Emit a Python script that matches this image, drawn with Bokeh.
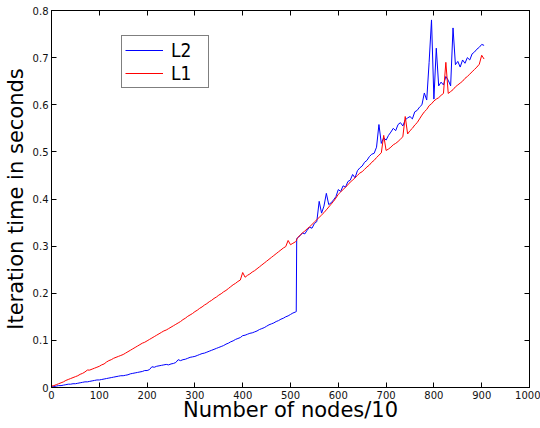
from bokeh.plotting import figure
from bokeh.models import Range1d, FixedTicker, LinearAxis, Legend, LegendItem
from bokeh.embed import file_html
from bokeh.resources import INLINE

# ---------------- data ----------------
nodes = list(range(0, 511, 5)) + [512, 513] + list(range(515, 906, 5))

l2_times = [
    0.001, 0.002, 0.003, 0.004, 0.004, 0.005, 0.006, 0.007, 0.007, 0.008,
    0.008, 0.009, 0.010, 0.011, 0.012, 0.012, 0.013, 0.014, 0.015, 0.016,
    0.016, 0.017, 0.018, 0.019, 0.020, 0.021, 0.022, 0.023, 0.024, 0.025,
    0.025, 0.026, 0.027, 0.029, 0.030, 0.031, 0.032, 0.033, 0.034, 0.036,
    0.036, 0.038, 0.044, 0.043, 0.045, 0.046, 0.047, 0.048, 0.049, 0.048,
    0.050, 0.051, 0.053, 0.059, 0.057, 0.059, 0.060, 0.062, 0.064, 0.065,
    0.066, 0.068, 0.070, 0.072, 0.073, 0.075, 0.077, 0.079, 0.081, 0.083,
    0.085, 0.087, 0.089, 0.092, 0.094, 0.097, 0.099, 0.102, 0.104, 0.106,
    0.110, 0.111, 0.113, 0.115, 0.116, 0.118, 0.120, 0.123, 0.125, 0.127,
    0.130, 0.133, 0.135, 0.137, 0.140, 0.142, 0.145, 0.147, 0.150, 0.152,
    0.155, 0.158, 0.160,
    0.161, 0.316,
    0.318, 0.322, 0.328, 0.326, 0.334, 0.340, 0.338, 0.348, 0.352,
    0.395, 0.370, 0.385, 0.412, 0.388, 0.392, 0.398, 0.405, 0.420, 0.416,
    0.428, 0.425, 0.437, 0.440, 0.452, 0.445, 0.460, 0.466, 0.470, 0.478,
    0.482, 0.490, 0.495, 0.497, 0.510, 0.558, 0.518, 0.530, 0.525, 0.535,
    0.542, 0.550, 0.545, 0.558, 0.562, 0.555, 0.568, 0.572, 0.575, 0.570,
    0.585, 0.588, 0.595, 0.600, 0.625, 0.610, 0.690, 0.780, 0.612, 0.720,
    0.640, 0.648, 0.642, 0.660, 0.652, 0.640, 0.763, 0.685, 0.692, 0.680,
    0.695, 0.688, 0.700, 0.695, 0.708, 0.712, 0.718, 0.722, 0.728, 0.726,
]

l1_times = [
    0.003, 0.004, 0.006, 0.008, 0.010, 0.012, 0.015, 0.017, 0.019, 0.021,
    0.023, 0.025, 0.028, 0.030, 0.033, 0.037, 0.037, 0.039, 0.041, 0.043,
    0.045, 0.048, 0.050, 0.054, 0.057, 0.059, 0.062, 0.064, 0.066, 0.068,
    0.070, 0.073, 0.076, 0.079, 0.082, 0.085, 0.088, 0.091, 0.094, 0.096,
    0.099, 0.102, 0.105, 0.108, 0.111, 0.114, 0.117, 0.120, 0.122, 0.125,
    0.128, 0.131, 0.134, 0.137, 0.140, 0.144, 0.147, 0.151, 0.154, 0.157,
    0.161, 0.164, 0.168, 0.171, 0.175, 0.178, 0.182, 0.185, 0.189, 0.192,
    0.196, 0.199, 0.203, 0.206, 0.210, 0.214, 0.218, 0.221, 0.225, 0.228,
    0.244, 0.234, 0.238, 0.241, 0.245, 0.248, 0.252, 0.256, 0.260, 0.264,
    0.268, 0.272, 0.276, 0.280, 0.284, 0.288, 0.292, 0.296, 0.299, 0.312,
    0.303, 0.306, 0.309,
    0.311, 0.314,
    0.318, 0.323, 0.328, 0.332, 0.337, 0.341, 0.346, 0.351, 0.356,
    0.361, 0.366, 0.371, 0.377, 0.383, 0.389, 0.395, 0.402, 0.410, 0.415,
    0.420, 0.425, 0.430, 0.436, 0.440, 0.445, 0.450, 0.455, 0.458, 0.463,
    0.468, 0.472, 0.478, 0.482, 0.488, 0.493, 0.498, 0.535, 0.503, 0.506,
    0.510, 0.515, 0.518, 0.522, 0.527, 0.532, 0.575, 0.538, 0.545, 0.550,
    0.557, 0.562, 0.570, 0.578, 0.585, 0.590, 0.598, 0.602, 0.608, 0.612,
    0.615, 0.620, 0.624, 0.690, 0.624, 0.628, 0.632, 0.638, 0.642, 0.646,
    0.650, 0.656, 0.660, 0.665, 0.670, 0.675, 0.680, 0.686, 0.705, 0.697,
]

x_ticks = [0, 100, 200, 300, 400, 500, 600, 700, 800, 900, 1000]
y_ticks = [0, 0.1, 0.2, 0.3, 0.4, 0.5, 0.6, 0.7, 0.8]
y_tick_labels = ["0", "0.1", "0.2", "0.3", "0.4", "0.5", "0.6", "0.7", "0.8"]
series_names = ["L2", "L1"]

# ---------------- figure ----------------
p = figure(frame_width=478, frame_height=377, output_backend="svg",
           toolbar_location=None,
           x_range=Range1d(0, 1000), y_range=Range1d(0, 0.8),
           min_border_left=51, min_border_top=10, min_border_right=11,
           min_border_bottom=41)

p.grid.visible = False
p.outline_line_color = "black"
p.outline_line_width = 1
p.background_fill_color = "white"
p.border_fill_color = "white"

TICK_FONT = "DejaVu Sans"

def style_axis(ax, show_labels=True):
    ax.axis_line_color = "black"
    ax.axis_line_width = 1
    ax.major_tick_in = 5
    ax.major_tick_out = 0
    ax.minor_tick_in = 0
    ax.minor_tick_out = 0
    ax.minor_tick_line_color = None
    ax.major_tick_line_color = "black"
    ax.major_label_text_font = TICK_FONT
    ax.major_label_text_font_size = "10px" if show_labels else "0px"
    ax.major_label_text_color = "#111111"
    ax.axis_label_text_font = TICK_FONT
    ax.axis_label_text_font_style = "normal"
    ax.axis_label_text_color = "black"
    ax.axis_label_text_font_size = "21px"

xa = p.xaxis[0]
xa.ticker = FixedTicker(ticks=x_ticks)
style_axis(xa)
xa.axis_label = "Number of nodes/10"
xa.major_label_standoff = 3
xa.axis_label_standoff = -4

ya = p.yaxis[0]
ya.ticker = FixedTicker(ticks=y_ticks)
ya.major_label_overrides = {t: s for t, s in zip(y_ticks, y_tick_labels)}
style_axis(ya)
ya.axis_label = "Iteration time in seconds"
ya.major_label_standoff = 3
ya.axis_label_standoff = 2

top = LinearAxis(ticker=FixedTicker(ticks=x_ticks))
style_axis(top, show_labels=False)
top.major_label_standoff = 0
top.major_label_overrides = {t: "" for t in x_ticks}
p.add_layout(top, "above")

right = LinearAxis(ticker=FixedTicker(ticks=y_ticks))
style_axis(right, show_labels=False)
right.major_label_standoff = 0
right.major_label_overrides = {t: "" for t in y_ticks}
p.add_layout(right, "right")

r_l2 = p.line(nodes, l2_times, line_color="#0000ff", line_width=1)
r_l1 = p.line(nodes, l1_times, line_color="#ff0000", line_width=1)

legend = Legend(items=[LegendItem(label=series_names[0], renderers=[r_l2]),
                       LegendItem(label=series_names[1], renderers=[r_l1])],
                location=(70, 299))
legend.border_line_color = "black"
legend.border_line_width = 1
legend.background_fill_color = "white"
legend.background_fill_alpha = 1
legend.label_text_font = "'DejaVu Sans Condensed', 'Liberation Sans', sans-serif"
legend.label_text_font_size = "19px"
legend.label_text_color = "black"
legend.glyph_width = 38
legend.glyph_height = 18
legend.label_height = 18
legend.label_width = 34
legend.label_standoff = 8
legend.padding = 3
legend.spacing = 1
legend.margin = 0
p.add_layout(legend, "center")

open("out.html", "w").write(file_html(p, INLINE))
